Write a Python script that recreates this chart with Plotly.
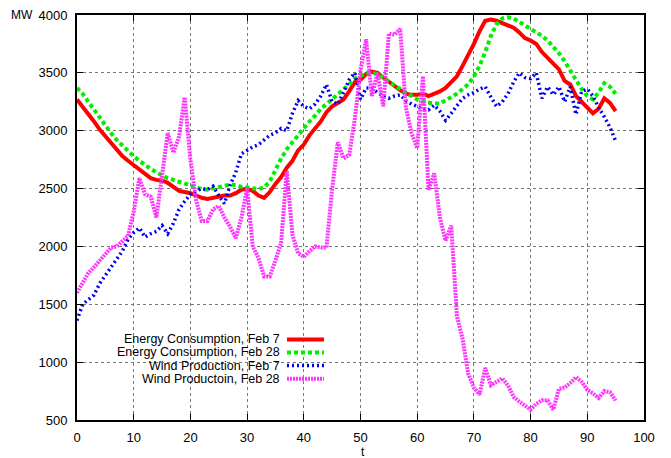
import plotly.graph_objects as go

# time index (quarter-hour steps)
t = list(range(96))

consumption_feb7 = [
    3270, 3210, 3150, 3080, 3010, 2950, 2890, 2830, 2780, 2740,
    2700, 2670, 2630, 2590, 2575, 2570, 2550, 2510, 2480, 2470,
    2460, 2440, 2420, 2410, 2420, 2430, 2440, 2440, 2460, 2490,
    2500, 2480, 2440, 2420, 2470, 2540, 2600, 2680, 2740, 2830,
    2880, 2960, 3020, 3080, 3160, 3210, 3240, 3270, 3340, 3420,
    3440, 3490, 3510, 3500, 3460, 3420, 3390, 3350, 3320, 3310,
    3310, 3320, 3300, 3320, 3340, 3370, 3420, 3470, 3560, 3650,
    3750, 3860, 3950, 3960, 3950, 3930, 3910, 3890, 3850, 3800,
    3780, 3750, 3680, 3630, 3580, 3530, 3430, 3400, 3300, 3250,
    3200, 3150, 3190, 3280, 3240, 3170,
]

consumption_feb28 = [
    3370, 3320, 3250, 3180, 3110, 3040, 2980, 2920, 2870, 2820,
    2780, 2740, 2700, 2670, 2640, 2610, 2590, 2575, 2560, 2540,
    2525, 2510, 2495, 2490, 2500, 2510, 2520, 2535, 2530, 2515,
    2510, 2500, 2495, 2510, 2560, 2660, 2760, 2840, 2900, 2970,
    3020, 3080, 3130, 3190, 3230, 3270, 3310, 3350, 3400, 3450,
    3480, 3500, 3500, 3490, 3460, 3420, 3390, 3360, 3330, 3290,
    3270, 3250, 3240, 3235, 3235, 3260, 3290, 3320, 3360, 3400,
    3470, 3560, 3680, 3820, 3920, 3970, 3980, 3970, 3940, 3910,
    3890, 3850, 3820, 3780, 3730, 3670, 3600, 3520, 3440, 3360,
    3300, 3270, 3330, 3410, 3380, 3320,
]

wind_feb7 = [
    1360, 1500, 1540, 1580, 1680, 1750, 1820, 1890, 1960, 2060,
    2120, 2160, 2080, 2110, 2130, 2180, 2110, 2200, 2320, 2390,
    2450, 2480, 2500, 2490, 2520, 2440, 2370, 2530, 2640, 2800,
    2830, 2860, 2880, 2920, 2960, 2980, 3020, 3000, 3150, 3260,
    3210, 3190, 3230, 3300, 3400, 3250, 3230, 3330, 3440, 3500,
    3270, 3370, 3370, 3330, 3300, 3280, 3300, 3310, 3260, 3230,
    3210, 3190, 3180, 3220, 3170, 3090, 3150, 3220, 3280, 3310,
    3330, 3360, 3380, 3290, 3210, 3250, 3320, 3420, 3500, 3460,
    3450, 3500, 3280, 3380, 3310, 3380, 3250, 3380, 3140, 3340,
    3360, 3300, 3200, 3120, 3030, 2910,
]

wind_feb28 = [
    1600, 1680, 1770, 1820, 1880, 1930, 1990, 2000, 2050, 2090,
    2300, 2590, 2450, 2430, 2250, 2620, 2980, 2810, 2950, 3290,
    2750, 2400, 2220, 2220, 2320, 2350, 2250, 2170, 2070, 2250,
    2500, 2000, 1900, 1740, 1740, 1880, 2030, 2650, 2100, 1940,
    1910, 1960, 2000, 1990, 1990, 2500, 2900, 2760, 2790, 3100,
    3520, 3790, 3300, 3500, 3210, 3840, 3830, 3880, 3200, 2980,
    2850, 3470, 2490, 2630, 2250, 2050, 2180, 1400, 1200, 900,
    780, 720, 950, 800, 830, 860, 800, 700, 660, 620,
    590, 640, 670, 670, 590, 770, 780, 820, 870, 830,
    760, 730, 690, 750, 740, 670,
]

series = [
    ("Energy Consumption, Feb 7", consumption_feb7, "#ff0000", 4, "solid"),
    ("Energy Consumption, Feb 28", consumption_feb28, "#00ee00", 4, "4px,3px"),
    ("Wind Production, Feb 7", wind_feb7, "#0000ee", 3.5, "2px,3px"),
    ("Wind Productoin, Feb 28", wind_feb28, "#ff33ff", 4, "2px,1px"),
]

x_ticks = list(range(0, 101, 10))
y_ticks = list(range(500, 4001, 500))

FONT = "Liberation Sans, Arial, sans-serif"

fig = go.Figure()
for name, vals, color, width, dash in series:
    fig.add_trace(go.Scatter(
        x=t, y=vals, mode="lines", name=name, showlegend=False,
        line=dict(color=color, width=width, dash=dash),
    ))

# key in the lower-left corner: right-aligned labels with line samples
key_rows = [338, 351.3, 364.6, 378]
plot_left, plot_right, plot_top, plot_bottom = 77, 644, 8, 420
pw, ph = plot_right - plot_left, plot_bottom - plot_top


def px_to_paper(px, py):
    return (px - plot_left) / pw, (plot_bottom - py) / ph


for (name, _, color, width, dash), row in zip(series, key_rows):
    tx, ty = px_to_paper(282, row)
    fig.add_annotation(
        x=tx, y=ty, xref="paper", yref="paper", text=name, showarrow=False,
        xanchor="right", yanchor="middle",
        font=dict(family=FONT, size=12.5, color="black"),
    )
    x0, y0 = px_to_paper(287, row)
    x1, _ = px_to_paper(324, row)
    fig.add_shape(
        type="line", xref="paper", yref="paper", x0=x0, x1=x1, y0=y0, y1=y0,
        line=dict(color=color, width=width, dash=dash),
    )

mx, my = px_to_paper(22, 8)
fig.add_annotation(x=mx, y=my, xref="paper", yref="paper", text="MW",
                   showarrow=False, xanchor="center", yanchor="middle",
                   font=dict(family=FONT, size=12, color="black"))
tx, ty = px_to_paper(363, 453)
fig.add_annotation(x=tx, y=ty, xref="paper", yref="paper", text="t",
                   showarrow=False, xanchor="center", yanchor="middle",
                   font=dict(family=FONT, size=12, color="black"))

axis_common = dict(
    showline=True, linecolor="black", linewidth=1.8, mirror="ticks",
    ticks="inside", ticklen=6, tickcolor="black",
    showgrid=True, gridcolor="#777777", griddash="dot", gridwidth=1,
    zeroline=False,
    tickfont=dict(family=FONT, size=13, color="black"),
)

fig.update_xaxes(range=[0, 100], tickvals=x_ticks, ticklabelstandoff=4, **axis_common)
fig.update_yaxes(range=[500, 4000], tickvals=y_ticks, ticklabelstandoff=5, **axis_common)

fig.update_layout(
    width=671, height=458,
    margin=dict(l=plot_left, r=671 - plot_right, t=plot_top, b=458 - plot_bottom),
    plot_bgcolor="white", paper_bgcolor="white",
    showlegend=False,
)

fig.write_html("out.html")
